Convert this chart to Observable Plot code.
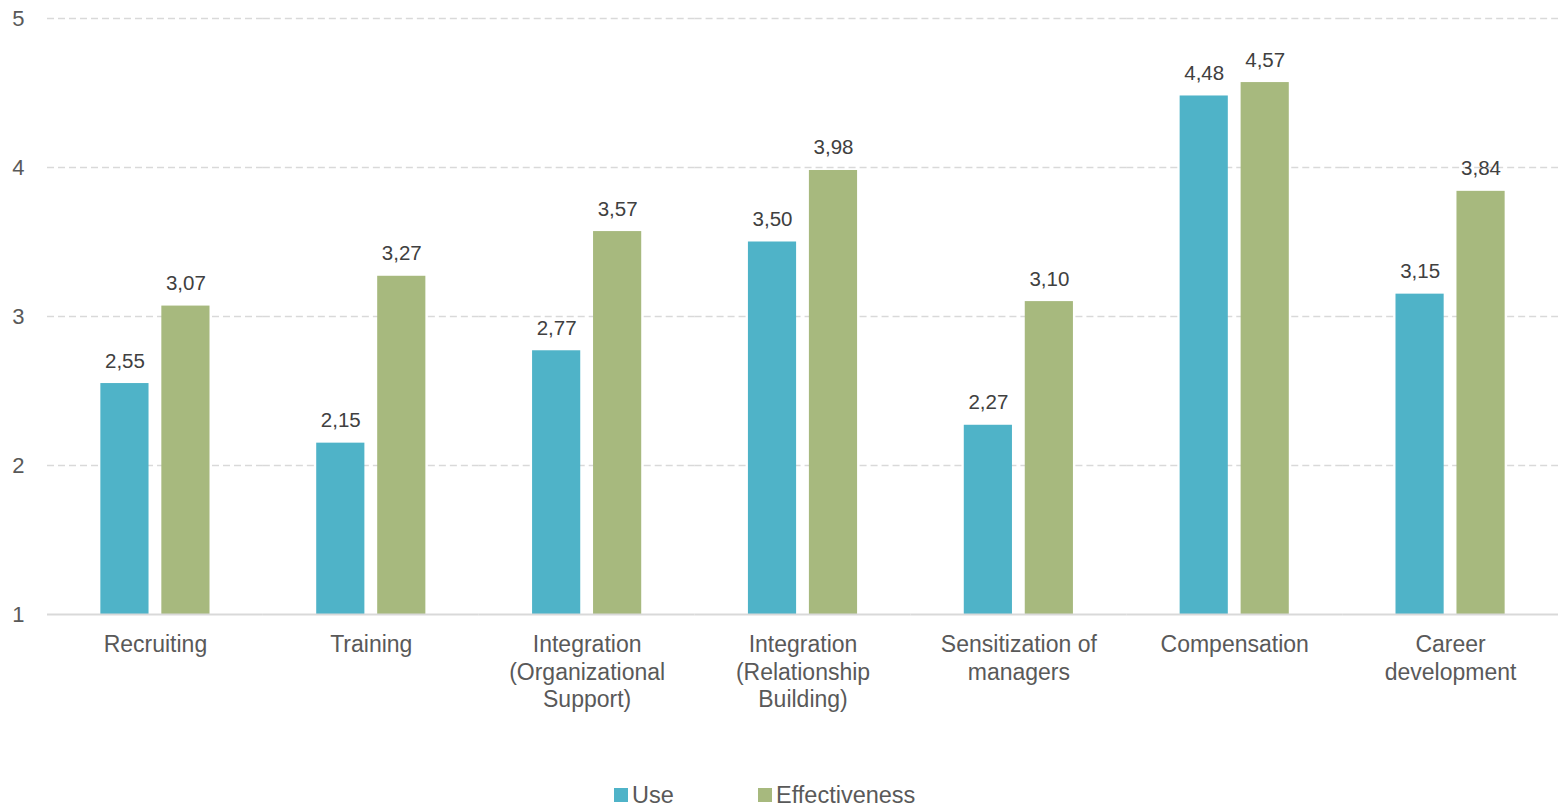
<!DOCTYPE html>
<html>
<head>
<meta charset="utf-8">
<script src="https://cdn.jsdelivr.net/npm/d3@7"></script>
<script src="https://cdn.jsdelivr.net/npm/@observablehq/plot@0.6"></script>
<style>
  html, body { margin: 0; padding: 0; background: #fff; }
  body { width: 1558px; height: 808px; position: relative; overflow: hidden; font-family: "Liberation Sans", Arial, sans-serif; }
  #legend { position: absolute; left: 614px; top: 781px; display: flex; font-size: 23.5px; color: #595959; line-height: 28px; }
  .item { display: flex; align-items: center; }
  .sw { width: 14px; height: 14px; margin-right: 4px; }
</style>
</head>
<body>
<div id="chart"></div>
<div id="legend"></div>
<script>
const categories = ["Recruiting", "Training", "Integration\n(Organizational\nSupport)", "Integration\n(Relationship\nBuilding)", "Sensitization of\nmanagers", "Compensation", "Career\ndevelopment"];
const series = ["Use", "Effectiveness"];
const useValues = [2.55, 2.15, 2.77, 3.50, 2.27, 4.48, 3.15];
const effectivenessValues = [3.07, 3.27, 3.57, 3.98, 3.10, 4.57, 3.84];
const yTicks = [1, 2, 3, 4, 5];
const colors = ["#4FB3C8", "#A7B97E"];

const data = [];
categories.forEach((c, i) => {
  data.push({cat: c, series: "Use", value: useValues[i]});
  data.push({cat: c, series: "Effectiveness", value: effectivenessValues[i]});
});

const fmt = v => v.toFixed(2).replace(".", ",");

const chart = Plot.plot({
  width: 1558,
  height: 760,
  marginTop: 18,
  marginBottom: 146,
  marginLeft: 47,
  marginRight: 0,
  style: {fontFamily: "'Liberation Sans', Arial, sans-serif", background: "#fff"},
  fx: {domain: categories, padding: 0, round: false, label: null},
  x: {domain: series, paddingInner: 0.21, paddingOuter: 0.875, round: false, axis: null},
  y: {domain: [1, 5], ticks: yTicks, label: null},
  color: {domain: series, range: colors},
  marks: [
    Plot.gridY(yTicks.filter(t => t > 1), {stroke: "#d9d9d9", strokeOpacity: 1, strokeWidth: 1.5, strokeDasharray: "7,4", facetAnchor: null}),
    Plot.axisY(yTicks, {tickSize: 0, tickPadding: 23, fontSize: 22, fill: "#595959", tickFormat: d => String(d)}),
    Plot.barY(data, {fx: "cat", x: "series", y1: 1, y2: "value", fill: "series"}),
    Plot.text(data, {fx: "cat", x: "series", y: "value", text: d => fmt(d.value), lineAnchor: "bottom", dy: -16, fontSize: 20.5, fill: "#404040"}),
    Plot.ruleY([1], {stroke: "#d9d9d9", strokeWidth: 2, facetAnchor: null}),
    Plot.axisFx({anchor: "bottom", tickSize: 0, tickPadding: 18, fontSize: 23, lineHeight: 1.2, fill: "#595959", label: null})
  ]
});
document.getElementById("chart").appendChild(chart);

const legend = document.getElementById("legend");
const widths = [144, null];
series.forEach((s, i) => {
  const item = document.createElement("div");
  item.className = "item";
  if (widths[i]) item.style.width = widths[i] + "px";
  const sw = document.createElement("span");
  sw.className = "sw";
  sw.style.background = colors[i];
  const t = document.createElement("span");
  t.textContent = s;
  item.appendChild(sw);
  item.appendChild(t);
  legend.appendChild(item);
});
</script>
</body>
</html>
